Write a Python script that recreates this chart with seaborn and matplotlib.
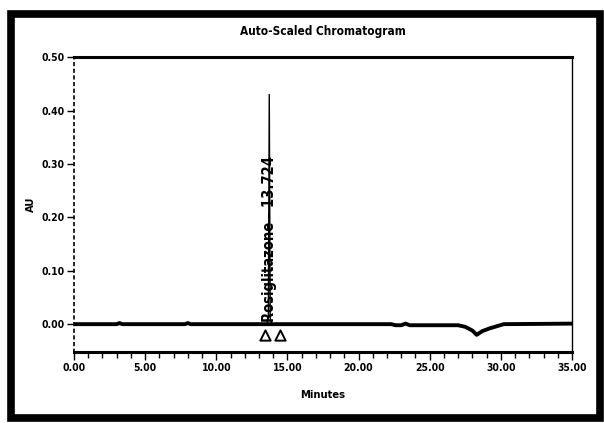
import matplotlib
matplotlib.use("Agg")
import matplotlib.pyplot as plt
from matplotlib.patches import Rectangle
from matplotlib.ticker import MultipleLocator
import pandas as pd
import seaborn as sns

# Detector trace (minutes, AU), baseline part
minutes = [0.0, 3.0, 3.2, 3.4, 7.8, 8.0, 8.2, 22.3, 22.6, 23.0, 23.3, 23.6,
           24.0, 26.5, 27.0, 27.5, 28.0, 28.3, 28.7, 29.2, 29.7, 30.2, 35.0]
au = [0.0, 0.0, 0.002, 0.0, 0.0, 0.002, 0.0, 0.0, -0.002, -0.002, 0.001,
      -0.002, -0.002, -0.002, -0.002, -0.005, -0.012, -0.02, -0.013, -0.008,
      -0.004, 0.0, 0.001]

# Main peak
peak_minutes = [13.55, 13.66, 13.724, 13.79, 13.9]
peak_au = [0.0, 0.012, 0.43, 0.012, 0.0]

# Integration start/end markers
marker_min = [13.45, 14.45]
marker_au = [-0.021, -0.021]

peak_rt = 13.724
peak_name = "Rosiglitazone"

x_ticks = [0, 5, 10, 15, 20, 25, 30, 35]
y_ticks = [0.0, 0.1, 0.2, 0.3, 0.4, 0.5]

sns.set_style("ticks")
plt.rcParams["font.family"] = ["DejaVu Sans"]
plt.rcParams["font.stretch"] = "condensed"
for key in ["text.color", "axes.labelcolor", "xtick.color", "ytick.color"]:
    plt.rcParams[key] = "black"

fig = plt.figure(figsize=(6.04, 4.23), dpi=100)
ax = fig.add_axes([0.1225, 0.168, 0.8245, 0.697])

trace = pd.DataFrame({"Minutes": minutes, "AU": au})
sns.lineplot(data=trace, x="Minutes", y="AU", ax=ax, color="black",
             linewidth=2.8, estimator=None, sort=False)

peak = pd.DataFrame({"Minutes": peak_minutes, "AU": peak_au})
sns.lineplot(data=peak, x="Minutes", y="AU", ax=ax, color="black",
             linewidth=1.0, estimator=None, sort=False)

marks = pd.DataFrame({"Minutes": marker_min, "AU": marker_au})
sns.scatterplot(data=marks, x="Minutes", y="AU", ax=ax, marker="^", s=55,
                facecolor="white", edgecolor="black", linewidth=1.4, zorder=5)

ax.text(peak_rt, 0.004, f"{peak_name} - {peak_rt:.3f}", rotation=90,
        ha="center", va="bottom", fontsize=10.5, fontweight="bold",
        color="black")

ax.set_xlim(0, 35)
ax.set_ylim(-0.052, 0.50)
ax.set_xticks(x_ticks)
ax.set_xticklabels([f"{v:.2f}" for v in x_ticks])
ax.set_yticks(y_ticks)
ax.set_yticklabels([f"{v:.2f}" for v in y_ticks])
ax.xaxis.set_minor_locator(MultipleLocator(1))
ax.tick_params(axis="x", which="major", length=6, width=1, labelsize=7.5, pad=2)
ax.tick_params(axis="x", which="minor", length=4, width=1)
ax.tick_params(axis="y", which="major", length=5, width=1, labelsize=7.5, pad=2)
for lab in ax.get_xticklabels() + ax.get_yticklabels():
    lab.set_fontweight("bold")

ax.set_xlabel("Minutes", fontsize=8, fontweight="bold")
ax.xaxis.set_label_coords(0.5, -0.128)
ax.set_ylabel("AU", fontsize=8, fontweight="bold")
ax.yaxis.set_label_coords(-0.076, 0.5)
ax.set_title("Auto-Scaled Chromatogram", fontsize=8.5, fontweight="bold", pad=16)

for side in ["top", "bottom"]:
    ax.spines[side].set_visible(True)
    ax.spines[side].set_linewidth(2.2)
    ax.spines[side].set_color("black")
ax.spines["right"].set_visible(True)
ax.spines["right"].set_linewidth(1.0)
ax.spines["right"].set_color("black")
ax.spines["left"].set_linewidth(1.2)
ax.spines["left"].set_linestyle((0, (1.5, 2.5)))
ax.spines["left"].set_color("black")

# Heavy frame around the whole report page
fig.patches.append(Rectangle((11 / 604, 5 / 423), 589 / 604, 404 / 423,
                             transform=fig.transFigure, fill=False,
                             edgecolor="black", linewidth=5.5))

fig.savefig("out.png", dpi=100, facecolor="white")
